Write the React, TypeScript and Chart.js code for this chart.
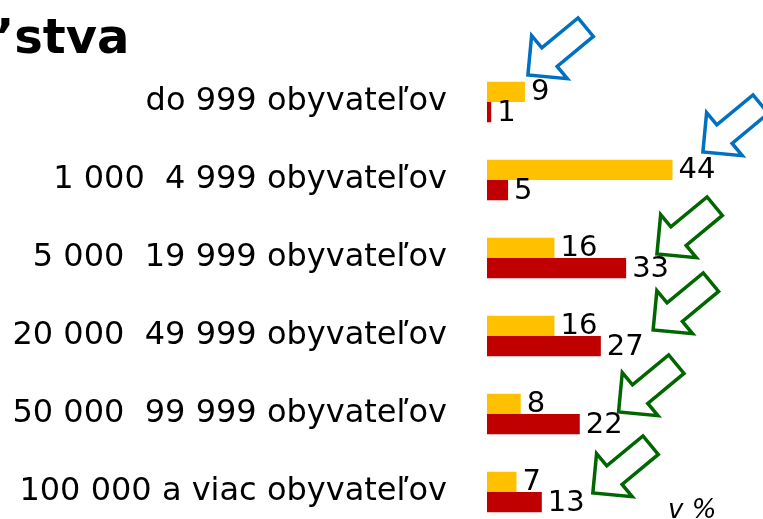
import React, { useEffect, useRef } from "react";
import { Chart, registerables } from "chart.js";

Chart.register(...registerables);

// ---- data ----
const categories = [
  "do 999 obyvateľov",
  "1 000  4 999 obyvateľov",
  "5 000  19 999 obyvateľov",
  "20 000  49 999 obyvateľov",
  "50 000  99 999 obyvateľov",
  "100 000 a viac obyvateľov",
];
const seriesYellow = [9, 44, 16, 16, 8, 7];
const seriesRed = [1, 5, 33, 27, 22, 13];
const titleText = "\u2019stva";
const unitText = "v %";

// decorative arrows (anchored in data space: category index, value, pixel offset)
const arrowCats = [0, 1, 2, 3, 4, 5];
const arrowValues = [9.7, 51.2, 40.3, 39.4, 31.2, 25.1];
const arrowOffsets = [-27, -28, -4, -6, -2, 1];
const arrowColors = ["#0070C0", "#0070C0", "#006600", "#006600", "#006600", "#006600"];

const FONT = "'DejaVu Sans', Verdana, sans-serif";

function drawArrow(ctx: CanvasRenderingContext2D, tx: number, ty: number, color: string) {
  const L = 75, H = 28, hw = 28, sw = 12;
  const ang = (-39.6 * Math.PI) / 180;
  const ux = Math.cos(ang), uy = Math.sin(ang);
  const vx = -uy, vy = ux;
  const pts = [[0, 0], [H, -hw], [H, -sw], [L, -sw], [L, sw], [H, sw], [H, hw]];
  ctx.beginPath();
  pts.forEach(([u, v], i) => {
    const x = tx + u * ux + v * vx;
    const y = ty + u * uy + v * vy;
    if (i === 0) ctx.moveTo(x, y);
    else ctx.lineTo(x, y);
  });
  ctx.closePath();
  ctx.lineWidth = 3.5;
  ctx.lineJoin = "miter";
  ctx.strokeStyle = color;
  ctx.stroke();
}

const overlayPlugin = {
  id: "overlay",
  afterDatasetsDraw(chart: any) {
    const ctx: CanvasRenderingContext2D = chart.ctx;
    ctx.save();
    ctx.font = `29px ${FONT}`;
    ctx.fillStyle = "#000";
    ctx.textAlign = "left";
    ctx.textBaseline = "middle";
    chart.data.datasets.forEach((ds: any, di: number) => {
      const meta = chart.getDatasetMeta(di);
      meta.data.forEach((el: any, i: number) => {
        ctx.fillText(String(ds.data[i]), el.x + 6, el.y + 1);
      });
    });
    ctx.restore();
  },
  afterDraw(chart: any) {
    const ctx: CanvasRenderingContext2D = chart.ctx;
    const xs = chart.scales.x;
    const ys = chart.scales.y;
    ctx.save();
    arrowCats.forEach((c, i) => {
      const tx = xs.getPixelForValue(arrowValues[i]);
      const ty = ys.getPixelForValue(c) + arrowOffsets[i];
      drawArrow(ctx, tx, ty, arrowColors[i]);
    });
    // title (cropped slide title)
    ctx.fillStyle = "#000";
    ctx.textAlign = "left";
    ctx.textBaseline = "alphabetic";
    ctx.font = `bold 48px ${FONT}`;
    ctx.fillText(titleText, -4, 53);
    // unit
    ctx.font = `italic 26px ${FONT}`;
    ctx.fillText(unitText, 668, 518);
    ctx.restore();
  },
};

export default function App() {
  const ref = useRef<HTMLCanvasElement>(null);
  useEffect(() => {
    const canvas = ref.current!;
    const chart = new Chart(canvas, {
      type: "bar",
      data: {
        labels: categories,
        datasets: [
          {
            label: "A",
            data: seriesYellow,
            backgroundColor: "#FFC000",
            borderWidth: 0,
            categoryPercentage: 0.52,
            barPercentage: 1,
          },
          {
            label: "B",
            data: seriesRed,
            backgroundColor: "#C00000",
            borderWidth: 0,
            categoryPercentage: 0.52,
            barPercentage: 1,
          },
        ],
      },
      options: {
        indexAxis: "y",
        animation: false,
        responsive: false,
        events: [],
        layout: { padding: { top: 63, right: 23, bottom: 0, left: 0 } },
        plugins: {
          legend: { display: false },
          tooltip: { enabled: false },
          title: { display: false },
        },
        scales: {
          x: { display: false, min: 0, max: 60 },
          y: {
            grid: { display: false, drawTicks: false },
            border: { display: false },
            ticks: {
              font: { family: FONT, size: 32 },
              color: "#000",
              padding: 40,
              autoSkip: false,
            },
            afterFit: (s: any) => {
              s.width = 487;
              s.paddingTop = 0;
              s.paddingBottom = 0;
            },
          },
        },
      } as any,
      plugins: [overlayPlugin],
    });
    return () => chart.destroy();
  }, []);
  return (
    <div
      style={{
        position: "absolute",
        left: 0,
        top: 0,
        width: 763,
        height: 519,
        overflow: "hidden",
        background: "#fff",
      }}
    >
      <canvas ref={ref} width={763} height={531} style={{ display: "block" }} />
    </div>
  );
}
